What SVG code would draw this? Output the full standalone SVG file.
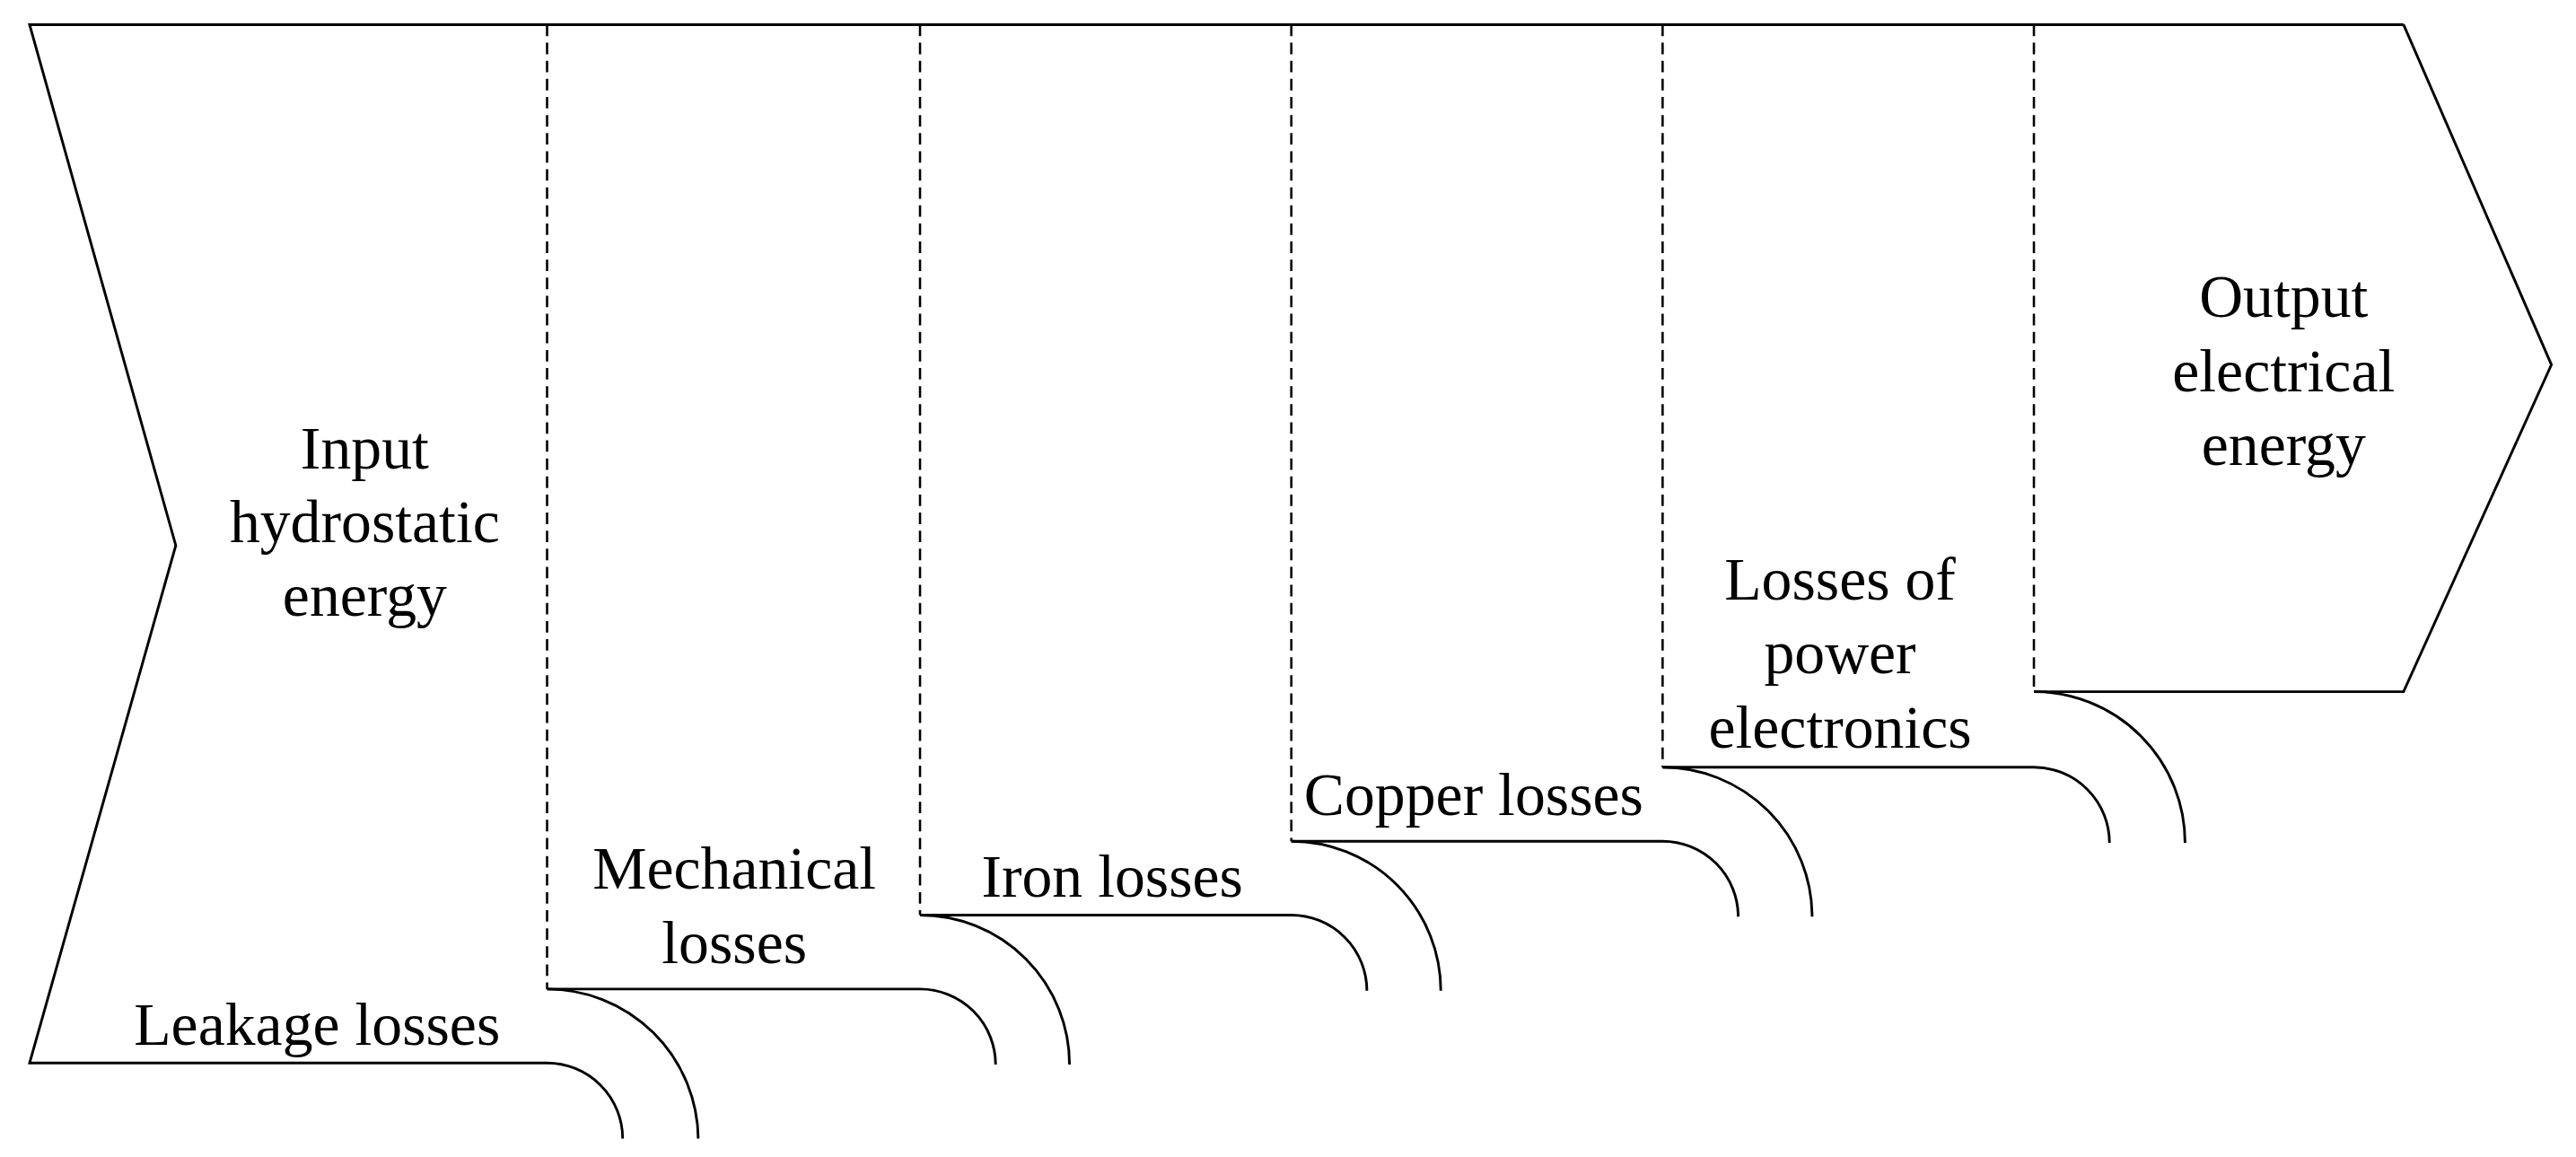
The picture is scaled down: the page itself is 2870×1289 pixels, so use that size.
<svg xmlns="http://www.w3.org/2000/svg" width="2870" height="1289" viewBox="0 0 2870 1289">
<style>
.s{fill:none;stroke:#000;stroke-width:1.6}
.d{fill:none;stroke:#000;stroke-width:1.4;stroke-dasharray:7,4}
text{font-family:"Liberation Serif","Times New Roman",serif;font-size:37px;fill:#000;text-anchor:middle}
</style>
<rect width="2870" height="1289" fill="#fff"/>
<g transform="scale(1.8304)">
<g id="connectors">
<path class="s" d="M1463,15 H18 L107,332 L18,647 H333 A46,46 0 0 1 379,693 M333,602 A92,92 0 0 1 425,693"/>
<path class="s" d="M333,602 H560 A46,46 0 0 1 606,648 M560,557 A91,91 0 0 1 651,648"/>
<path class="s" d="M560,557 H786 A46,46 0 0 1 832,603 M786,512 A91,91 0 0 1 877,603"/>
<path class="s" d="M786,512 H1012 A46,46 0 0 1 1058,558 M1012,467 A91,91 0 0 1 1103,558"/>
<path class="s" d="M1012,467 H1238 A46,46 0 0 1 1284,513 M1238,421 A92,92 0 0 1 1330,513"/>
<path class="s" d="M1238,421 H1463 L1553,222 L1463,15"/>
<path class="d" d="M333,15 V602 M560,15 V557 M786,15 V512 M1012,15 V467 M1238,15 V421"/>
</g>
<g id="input"><text x="222" y="285">Input</text><text x="222" y="330">hydrostatic</text><text x="222" y="375">energy</text></g>
<g id="output"><text x="1390" y="193">Output</text><text x="1390" y="238">electrical</text><text x="1390" y="283">energy</text></g>
<g id="leakage"><text x="193" y="636">Leakage losses</text></g>
<g id="mechanical"><text x="447" y="541">Mechanical</text><text x="447" y="586">losses</text></g>
<g id="iron"><text x="677" y="546">Iron losses</text></g>
<g id="copper"><text x="897" y="496">Copper losses</text></g>
<g id="power"><text x="1120" y="365">Losses of</text><text x="1120" y="410">power</text><text x="1120" y="455">electronics</text></g>
</g>
</svg>
